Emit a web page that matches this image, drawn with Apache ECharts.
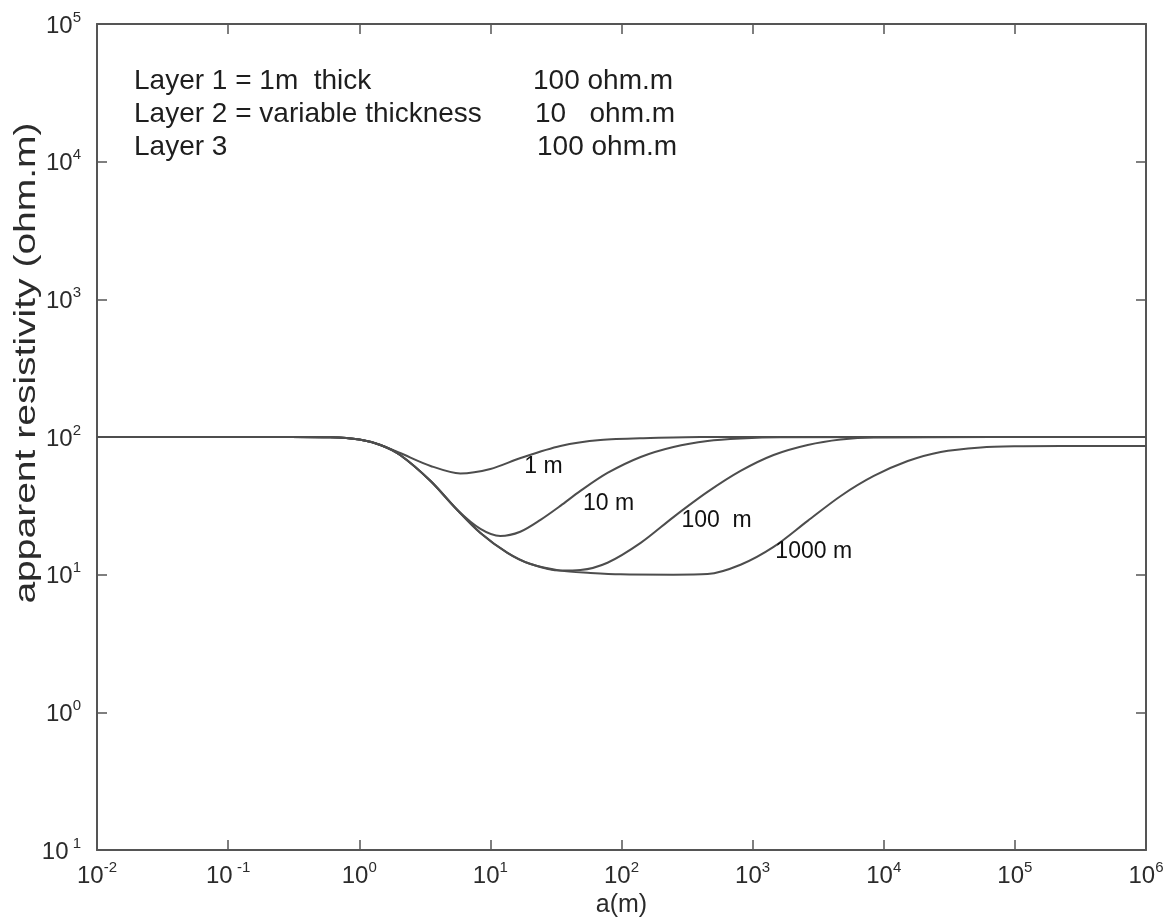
<!DOCTYPE html>
<html>
<head>
<meta charset="utf-8">
<script src="https://cdn.jsdelivr.net/npm/echarts@6/dist/echarts.min.js"></script>
<style>
html,body{margin:0;padding:0;background:#fff;}
#chart{width:1171px;height:923px;}
</style>
</head>
<body>
<div id="chart"></div>
<script>
// ---- data (a in m, apparent resistivity in ohm.m) ----
const x1m = [0.01, 0.1, 0.3, 0.6, 1, 1.45, 2.05, 3.5, 5.9, 10, 17, 34.2, 69, 166, 400, 1e6];
const y1m = [100, 100, 100, 99.5, 95.9, 87.5, 76.5, 61.6, 54.4, 58.6, 70.4, 86, 95, 98.3, 100, 100];

const x10m = [0.01, 0.1, 0.3, 0.6, 1, 1.45, 2.05, 3.5, 5.6, 8.4, 11.9, 16.9, 24.1, 34.2, 48.6, 78.2, 140, 249, 453, 809, 1637, 1e6];
const y10m = [100, 100, 100, 99.5, 95.9, 87.5, 74, 47.9, 29.5, 21.5, 19.1, 20.5, 25.0, 31.6, 40.6, 54.8, 71.6, 84.6, 93.5, 97.5, 99.5, 100];

const x100m = [0.01, 0.1, 0.3, 0.6, 1, 1.45, 2.05, 3.5, 5.6, 8.4, 13.5, 20, 34.2, 48.6, 78.2, 140, 249, 453, 809, 1445, 2630, 4700, 8400, 1e6];
const y100m = [100, 100, 100, 99.5, 95.9, 87.5, 74, 47.9, 29.5, 20.1, 14.4, 12.0, 10.7, 10.8, 12.2, 17.0, 26.2, 39.9, 56.7, 74, 87.5, 95.9, 99.2, 100];

const x1000m = [0.01, 0.1, 0.3, 0.6, 1, 1.45, 2.05, 3.5, 5.6, 8.4, 13.5, 20, 34.2, 58, 98, 249, 453, 809, 1445, 2630, 4700, 8400, 15240, 27200, 55000, 1e5, 224000, 1e6];
const y1000m = [100, 100, 100, 99.5, 95.9, 87.5, 74, 47.9, 29.5, 20.1, 14.4, 12.0, 10.7, 10.3, 10.05, 10.0, 10.1, 11.8, 15.9, 24.6, 37.3, 52.1, 66.9, 77.9, 83.9, 85.6, 86, 86];

const curveLabels = ['1 m', '10 m', '100  m', '1000 m'];
const curveLabelX = [25.4, 79.6, 531, 2924];
const curveLabelY = [60.5, 32.7, 24.6, 14.6];

const xTickExp = ['-2', ' -1', '0', '1', '2', '3', '4', '5', '6'];
const yTickExp = [' 1', '0', '1', '2', '3', '4', '5'];

const infoLeft = ['Layer 1 = 1m  thick', 'Layer 2 = variable thickness', 'Layer 3'];
const infoRight = ['100 ohm.m', '10   ohm.m', '100 ohm.m'];

const xName = 'a(m)';
const yName = 'apparent resistivity (ohm.m)';

// ---- chart ----
const FONT = '"Liberation Sans", Arial, Helvetica, sans-serif';
const INK = '#2b2b2b';
const LINE = '#4d4d4d';

function zip(xs, ys) { return xs.map((x, i) => [x, ys[i]]); }

function tickRich() {
  return {
    b: { fontSize: 24, fontFamily: FONT, color: INK, lineHeight: 28, verticalAlign: 'bottom' },
    s: { fontSize: 15, fontFamily: FONT, color: INK, lineHeight: 28, verticalAlign: 'top', padding: [0, 0, 12, 0] }
  };
}

const chart = echarts.init(document.getElementById('chart'), null, { renderer: 'canvas' });

const axisCommon = {
  type: 'log',
  logBase: 10,
  interval: 1,
  axisLine: { show: true, lineStyle: { color: '#555', width: 2 } },
  axisTick: { show: true, inside: true, length: 10, lineStyle: { color: '#555', width: 1.5 } },
  splitLine: { show: false },
  minorTick: { show: false }
};

const lineSeries = (name, xs, ys) => ({
  name, type: 'line', data: zip(xs, ys), showSymbol: false, symbol: 'none',
  smooth: 0.3,
  lineStyle: { color: LINE, width: 2 }, z: 3, silent: true
});

const option = {
  animation: false,
  backgroundColor: '#fff',
  grid: { left: 97, right: 25, top: 24, bottom: 72, containLabel: false },
  xAxis: [
    Object.assign({}, axisCommon, {
      min: 0.01, max: 1e6, position: 'bottom',
      name: xName, nameLocation: 'middle', nameGap: 43,
      nameTextStyle: { fontSize: 25, fontFamily: FONT, color: INK },
      axisLabel: {
        margin: 10,
        formatter: v => '{b|10}{s|' + xTickExp[Math.round(Math.log10(v)) + 2] + '}',
        rich: tickRich()
      }
    }),
    Object.assign({}, axisCommon, {
      min: 0.01, max: 1e6, position: 'top', axisLabel: { show: false }
    })
  ],
  yAxis: [
    Object.assign({}, axisCommon, {
      min: 0.1, max: 1e5, position: 'left',
      axisLabel: {
        margin: 16,
        formatter: v => '{b|10}{s|' + yTickExp[Math.round(Math.log10(v)) + 1] + '}',
        rich: tickRich()
      }
    }),
    Object.assign({}, axisCommon, {
      min: 0.1, max: 1e5, position: 'right', axisLabel: { show: false }
    })
  ],
  series: [
    lineSeries('1 m', x1m, y1m),
    lineSeries('10 m', x10m, y10m),
    lineSeries('100 m', x100m, y100m),
    lineSeries('1000 m', x1000m, y1000m),
    {
      type: 'scatter', symbolSize: 0, silent: true, itemStyle: { opacity: 1 },
      data: curveLabels.map((t, i) => ({ value: [curveLabelX[i], curveLabelY[i]], name: t })),
      label: {
        show: true, position: 'inside', formatter: p => p.name, opacity: 1,
        fontSize: 23, fontFamily: FONT, color: '#111', textBorderWidth: 0
      },
      z: 4
    }
  ],
  graphic: [
    {
      type: 'text', x: 27, y: 363, rotation: Math.PI / 2, scaleX: 1.3, silent: true,
      style: { text: yName, font: '30px ' + FONT, fill: INK, align: 'center', verticalAlign: 'middle' }
    }
  ].concat(infoLeft.map((t, i) => ({
    type: 'text', x: 134, y: 81 + i * 33, silent: true,
    style: { text: t, font: '28px ' + FONT, fill: '#1e1e1e', align: 'left', verticalAlign: 'middle' }
  }))).concat(infoRight.map((t, i) => ({
    type: 'text', x: [533, 535, 537][i], y: 81 + i * 33, silent: true,
    style: { text: t, font: '28px ' + FONT, fill: '#1e1e1e', align: 'left', verticalAlign: 'middle' }
  })))
};

chart.setOption(option);
</script>
</body>
</html>
